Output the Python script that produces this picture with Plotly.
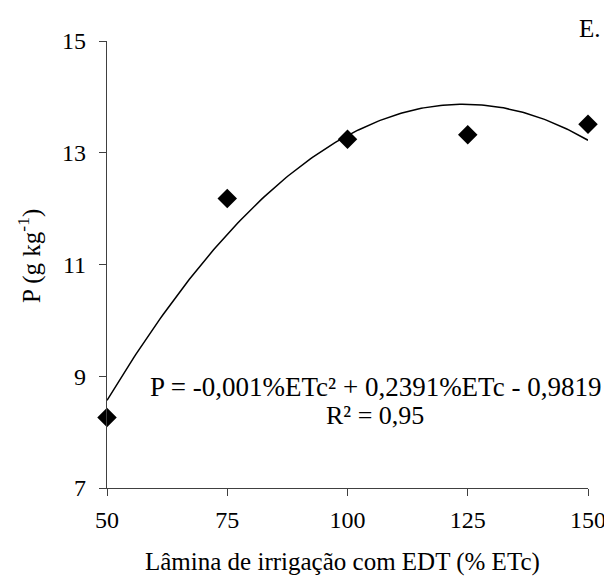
import numpy as np
import plotly.graph_objects as go

# Data
lamina = [50, 75, 100, 125, 150]
p_vals = [8.26, 12.18, 13.24, 13.32, 13.51]
x_ticks = [50, 75, 100, 125, 150]
y_ticks = [7, 9, 11, 13, 15]
equation = "P = -0,001%ETc² + 0,2391%ETc - 0,9819"
r2_text = "R² = 0,95"
panel = "E."

# quadratic trendline fitted to the data (as in the original)
coef = np.polyfit(lamina, p_vals, 2)
xf = np.linspace(min(lamina), max(lamina), 200)
yf = np.polyval(coef, xf)

FONT = "Liberation Serif"
OFF = 8  # page body margin
W, H = 612 - OFF, 585 - OFF
# plot area in window pixels: x 107..588, y 41..488
L, R, T, B = 107 - OFF, 612 - 588, 41 - OFF, 585 - 488
pw = W - L - R
ph = H - T - B

fig = go.Figure()
fig.add_trace(go.Scatter(x=xf, y=yf, mode="lines",
                         line=dict(color="black", width=1.5),
                         hoverinfo="skip", showlegend=False, cliponaxis=False))
fig.add_trace(go.Scatter(x=lamina, y=p_vals, mode="markers",
                         marker=dict(symbol="diamond", size=15, color="black"),
                         showlegend=False, cliponaxis=False))

axis_common = dict(showgrid=False, zeroline=False, showline=True, automargin=False,
                   linecolor="#404040", linewidth=1.3,
                   ticks="outside", ticklen=7, tickcolor="#404040", tickwidth=1.3,
                   tickfont=dict(family=FONT, size=24, color="black"))

fig.update_xaxes(range=[50, 150], tickvals=x_ticks, ticklabelstandoff=3, **axis_common)
fig.update_yaxes(range=[7, 15], tickvals=y_ticks, ticklabelstandoff=8, **axis_common)

def px(xw):
    return (xw - 107) / pw

def py(yw):
    return (488 - yw) / ph

annos = [
    dict(text="Lâmina de irrigação com EDT (% ETc)", x=px(342), y=py(562), size=25),
    dict(text="P (g kg<sup>-1</sup>)", x=px(29), y=py(256), textangle=-90, size=25),
    dict(text=equation, x=px(375), y=py(387), size=27),
    dict(text=r2_text, x=px(375), y=py(415), size=26),
    dict(text=panel, x=px(590), y=py(28), size=25),
]
for a in annos:
    s = a.pop("size")
    fig.add_annotation(xref="paper", yref="paper", showarrow=False,
                       xanchor="center", yanchor="middle",
                       font=dict(family=FONT, size=s, color="black"), **a)

fig.update_layout(width=W, height=H,
                  margin=dict(l=L, r=R, t=T, b=B),
                  paper_bgcolor="white", plot_bgcolor="white",
                  showlegend=False)

fig.write_html("out.html")
